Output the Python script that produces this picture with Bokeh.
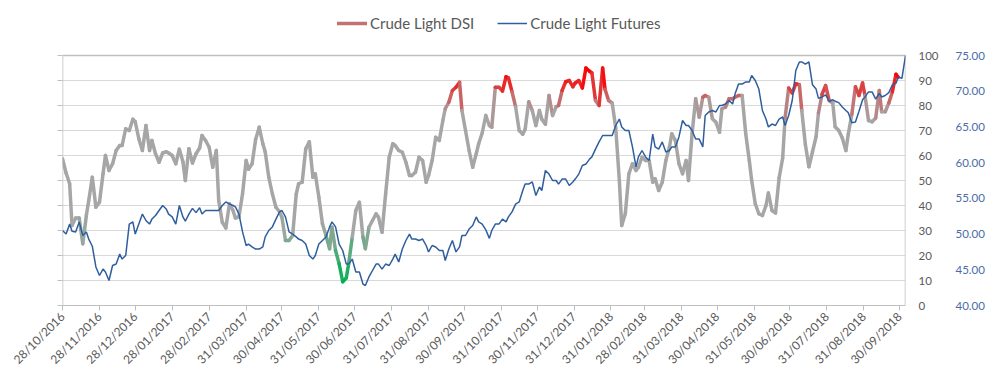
import math
import pandas as pd
from bokeh.plotting import figure
from bokeh.models import (ColumnDataSource, Range1d, LinearAxis, FixedTicker,
                          DatetimeTickFormatter, Legend, LegendItem, NumeralTickFormatter)
from bokeh.embed import file_html
from bokeh.resources import INLINE

# ---------------- data ----------------
start_date = "2016-10-28"
end_date = "2018-10-05"

crude_light_dsi = [
    58.7, 53, 48.7, 32, 35, 35, 24.7, 36, 42, 51.3,
    39.3, 41.3, 52.7, 60, 54, 56.7, 62, 64, 64, 70.7,
    70, 74.5, 73.5, 66.7, 62, 72, 62, 66, 60.7, 57.3,
    61, 61.5, 61, 60, 56.7, 62.5, 57.5, 50, 62.7, 57,
    60.7, 63, 68, 66, 63.3, 55.3, 62, 42, 33.3, 31,
    40.7, 38, 35, 35.5, 44.7, 58, 54.5, 56.7, 66.5, 71.3,
    64.7, 61.5, 51.3,
    44.7, 39.3, 37.5, 35.3, 26, 26, 28, 44.5, 48.7, 49.3,
    62.7, 65.5, 51.3, 52.7, 43.3, 32.7, 28, 22.7, 31.3, 22,
    16.7, 9.5, 11, 16.7, 27.3, 38, 41.3, 27.3, 22.7, 31.3,
    34, 36.7, 35.3, 29.3, 44.7, 59.3, 64.7, 64, 62, 61.3,
    57.3, 52, 52, 53.3, 59.3, 58, 49.3, 52, 58, 67.3,
    66, 74, 78.7, 81.3, 86, 87.3, 89.3, 78, 70, 62,
    55.3, 60.7, 64.7,
    69, 76, 72, 71.3, 87.3, 87.3, 85.8, 91.5, 91, 85.5,
    79.5, 70, 68.5, 70.5, 81.5, 78, 72, 78, 74.5, 72.5,
    84, 76, 79.5, 80, 86, 89.5, 90, 87.5, 89, 90,
    87, 95, 93.7, 93, 82, 80, 95, 86.5, 82, 81,
    71, 50, 32, 36.7, 52.7, 56.7, 54, 55.3, 59.3, 58,
    58, 49.3, 50.7, 46, 49.3, 58, 63.3, 68.7, 66, 56.7,
    52.7, 58, 50,
    68.7, 82.7, 75.3, 83.3, 84, 83.3, 74.7, 73.3, 69.3, 78.7,
    79.3, 82.7, 82.7, 83.3, 84, 84, 68.7, 58, 50, 40.7,
    36.7, 36, 40, 45, 38, 37, 51, 59, 75, 87,
    85, 88.7, 88.3, 78, 64.5, 55.5, 61.5, 67.5, 77, 84.5,
    88, 82, 81, 71.5, 70, 67, 62, 68.5, 76.5, 87.5,
    84, 89, 84, 74, 73.5, 75, 86, 77.5, 77.5, 81,
    85.5, 92.5, 91.3,
]

crude_light_futures = [
    50.5, 50.0, 51.4, 50.4, 50.3, 51.7, 49.8, 50.3, 49.3, 48.3,
    45.4, 44.2, 45.1, 44.7, 43.5, 45.6, 45.8, 47.2, 46.5, 47.0,
    51.4, 51.7, 50.0, 51.4, 52.8, 51.9, 51.4, 52.1, 52.6, 53.3,
    54.0, 53.5, 52.8, 52.4, 51.4, 54.0, 52.4, 51.8, 52.8, 53.6,
    53.0, 53.7, 52.8, 53.3, 53.3, 53.3, 53.3, 53.3, 54.0, 54.5,
    54.2, 54.0, 53.8, 52.8, 50.3, 48.4, 48.6, 48.2, 47.9, 47.9,
    48.2, 49.6, 50.5,
    51.0, 52.1, 53.1, 53.3, 52.4, 50.3, 50.0, 49.6, 49.3, 49.1,
    48.6, 47.0, 46.5, 47.0, 48.6, 49.1, 49.6, 51.0, 51.7, 51.0,
    48.6, 47.7, 45.8, 45.8, 46.5, 44.7, 44.7, 43.0, 42.8, 44.0,
    44.9, 45.8, 45.8, 45.1, 45.8, 45.6, 46.5, 47.2, 46.1, 47.9,
    49.1, 50.0, 49.3, 49.3, 49.1, 49.3, 48.4, 47.5, 48.4, 48.2,
    47.7, 47.7, 46.3, 47.9, 49.1, 47.5, 48.2, 49.8, 49.8, 50.7,
    51.2, 52.4, 51.7,
    51.4, 50.6, 49.4, 50.5, 51.4, 51.4, 52.1, 51.7, 52.4, 53.1,
    54.2, 54.5, 56.1, 57.0, 57.0, 57.3, 55.4, 56.6, 56.1, 58.9,
    58.4, 57.5, 57.5, 57.0, 57.7, 57.7, 56.8, 57.3, 57.7, 58.4,
    59.6, 59.8, 60.5, 60.8, 61.9, 62.9, 63.8, 63.8, 63.8, 63.8,
    65.2, 66.1, 65.0, 64.5, 64.5, 62.2, 59.4, 60.8, 61.7, 60.8,
    60.3, 64.0, 62.2, 61.9, 62.9, 61.5, 61.7, 62.2, 62.2, 63.6,
    65.9, 65.2, 65.2,
    64.5, 63.3, 63.3, 62.2, 66.6, 67.1, 67.3, 67.1, 68.0, 68.0,
    68.2, 68.7, 68.2, 69.6, 71.0, 71.0, 71.3, 71.3, 72.2, 71.5,
    70.3, 67.3, 66.1, 65.0, 65.4, 65.2, 66.1, 66.4, 65.2, 66.6,
    68.7, 72.9, 74.1, 74.1, 73.8, 74.1, 70.9, 70.3, 69.0, 69.2,
    69.5, 68.6, 68.8, 68.6, 68.4, 67.8, 67.3, 67.0, 65.6, 65.7,
    67.2, 68.8, 69.2, 69.9, 69.9, 68.9, 69.7, 69.2, 69.4, 69.8,
    70.9, 71.1, 72.0, 71.8, 75.0,
]

x_tick_dates = [
    "2016-10-28", "2016-11-28", "2016-12-28", "2017-01-28", "2017-02-28",
    "2017-03-31", "2017-04-30", "2017-05-31", "2017-06-30", "2017-07-31",
    "2017-08-31", "2017-09-30", "2017-10-31", "2017-11-30", "2017-12-31",
    "2018-01-31", "2018-02-28", "2018-03-31", "2018-04-30", "2018-05-31",
    "2018-06-30", "2018-07-31", "2018-08-31", "2018-09-30",
]
dsi_ticks = [0, 10, 20, 30, 40, 50, 60, 70, 80, 90, 100]
futures_ticks = [40, 45, 50, 55, 60, 65, 70, 75]

# sampling dates of the read values (evenly spaced along the time axis)
dates = pd.date_range(start_date, end_date, periods=len(crude_light_futures)).round("D")
dsi_dates = dates[:len(crude_light_dsi)]

# ---------------- styles / layout ----------------
FONT = "Lato"
TEXT = "#595959"
AXIS = "#BFBFBF"
GRID = "#D9D9D9"
BLUE = "#2F5E9E"
BLUE_TXT = "#4A6DA7"
GRAY_RGB = (166, 166, 166)
RED_RGB = (255, 0, 0)
GREEN_RGB = (0, 176, 80)

W, H = 995, 378
FRAME_L, FRAME_R, FRAME_T, FRAME_B = 62, 905, 5, 305   # frame box (px)
AXIS_TOP_PX = 55                                        # where 100 / 75.00 sit
scale = (FRAME_B - FRAME_T) / (FRAME_B - AXIS_TOP_PX)   # room above for the legend
dsi_lo, dsi_hi = dsi_ticks[0], dsi_ticks[-1]
fut_lo, fut_hi = futures_ticks[0], futures_ticks[-1]


def dsi_colour(v):
    if v >= 78:
        t, tgt = min((v - 78) / 14.0, 1.0), RED_RGB
    elif v <= 32:
        t, tgt = min((32 - v) / 22.0, 1.0), GREEN_RGB
    else:
        t, tgt = 0.0, GRAY_RGB
    rgb = [round(g + (c - g) * t) for g, c in zip(GRAY_RGB, tgt)]
    return "#%02x%02x%02x" % tuple(rgb)


def ms(d):
    return pd.Timestamp(d).value / 1e6


x0d, x1d = pd.Timestamp(start_date), pd.Timestamp(end_date)
p = figure(width=W, height=H, x_axis_type="datetime",
           output_backend="svg", toolbar_location=None,
           x_range=Range1d(x0d, x1d),
           y_range=Range1d(dsi_lo, dsi_lo + (dsi_hi - dsi_lo) * scale),
           min_border_left=FRAME_L, min_border_right=W - FRAME_R,
           min_border_top=FRAME_T, min_border_bottom=H - FRAME_B)
p.extra_y_ranges = {"fut": Range1d(fut_lo, fut_lo + (fut_hi - fut_lo) * scale)}
p.background_fill_color = "white"
p.border_fill_color = "white"
p.outline_line_color = None

# grid
p.xgrid.visible = False
p.ygrid.grid_line_color = GRID
p.ygrid.grid_line_width = 1

# x axis
xa = p.xaxis[0]
xa.ticker = FixedTicker(ticks=[ms(d) for d in x_tick_dates])
fmt = "%d/%m/%Y"
xa.formatter = DatetimeTickFormatter(milliseconds=fmt, seconds=fmt, minsec=fmt, minutes=fmt,
                                     hourmin=fmt, hours=fmt, days=fmt, months=fmt, years=fmt)
xa.major_label_orientation = math.pi / 4
xa.major_label_text_font = FONT
xa.major_label_text_font_size = "12px"
xa.major_label_text_color = TEXT
xa.axis_line_color = AXIS
xa.major_tick_line_color = AXIS
xa.major_tick_out = 5
xa.major_tick_in = 0
xa.minor_tick_line_color = None
xa.major_label_standoff = 4

# left axis: ticks only (its line is drawn below, up to 100)
ya = p.yaxis[0]
ya.ticker = FixedTicker(ticks=dsi_ticks)
ya.major_label_text_color = None
ya.axis_line_color = None
ya.major_tick_line_color = AXIS
ya.major_tick_out = 5
ya.major_tick_in = 0
ya.minor_tick_line_color = None

# right axes
r1 = LinearAxis(ticker=FixedTicker(ticks=dsi_ticks), axis_line_color=None,
                major_tick_line_color=None, minor_tick_line_color=None,
                major_tick_out=0, major_tick_in=0, major_label_standoff=13,
                major_label_text_font=FONT, major_label_text_font_size="11.5px",
                major_label_text_color=TEXT)
p.add_layout(r1, "right")
r2 = LinearAxis(y_range_name="fut", ticker=FixedTicker(ticks=futures_ticks),
                formatter=NumeralTickFormatter(format="0.00"), axis_line_color=None,
                major_tick_line_color=None, minor_tick_line_color=None,
                major_tick_out=0, major_tick_in=0, major_label_standoff=14,
                major_label_text_font=FONT, major_label_text_font_size="11.5px",
                major_label_text_color=BLUE_TXT)
p.add_layout(r2, "right")

# plot-area border (left, right, top) spanning 0..100
border = ColumnDataSource(dict(x0=[x0d, x1d, x0d], y0=[dsi_lo, dsi_lo, dsi_hi],
                               x1=[x0d, x1d, x1d], y1=[dsi_hi, dsi_hi, dsi_hi]))
p.segment("x0", "y0", "x1", "y1", source=border, line_color=AXIS, line_width=1.5)

# DSI line, coloured by level
mid = [(a + b) / 2 for a, b in zip(crude_light_dsi[:-1], crude_light_dsi[1:])]
seg_colours = [dsi_colour(v) for v in mid]
seg_src = ColumnDataSource(dict(
    x0=dsi_dates[:-1], y0=crude_light_dsi[:-1],
    x1=dsi_dates[1:], y1=crude_light_dsi[1:],
    c=seg_colours))
dsi_r = p.segment("x0", "y0", "x1", "y1", source=seg_src, line_color="c",
                  line_width=3.5, line_cap="round")

# futures line
fut_src = ColumnDataSource(dict(x=dates, y=crude_light_futures))
fut_r = p.line("x", "y", source=fut_src, y_range_name="fut", line_color=BLUE, line_width=1.5)

# legend in the free band above 100; DSI swatch uses a pale reddish segment colour
swatch_idx = next(i for i, v in enumerate(mid) if 81 <= v <= 83)
legend = Legend(items=[LegendItem(label="Crude Light DSI", renderers=[dsi_r], index=swatch_idx),
                       LegendItem(label="Crude Light Futures", renderers=[fut_r])],
                orientation="horizontal", location=(275, 272),
                padding=0, margin=0, spacing=23, label_standoff=3,
                glyph_width=30, glyph_height=20, label_height=20,
                label_text_font=FONT, label_text_font_size="15px",
                label_text_color=TEXT, border_line_color=None,
                background_fill_alpha=0)
p.add_layout(legend)

open("out.html", "w").write(file_html(p, INLINE, "Crude Light DSI"))
